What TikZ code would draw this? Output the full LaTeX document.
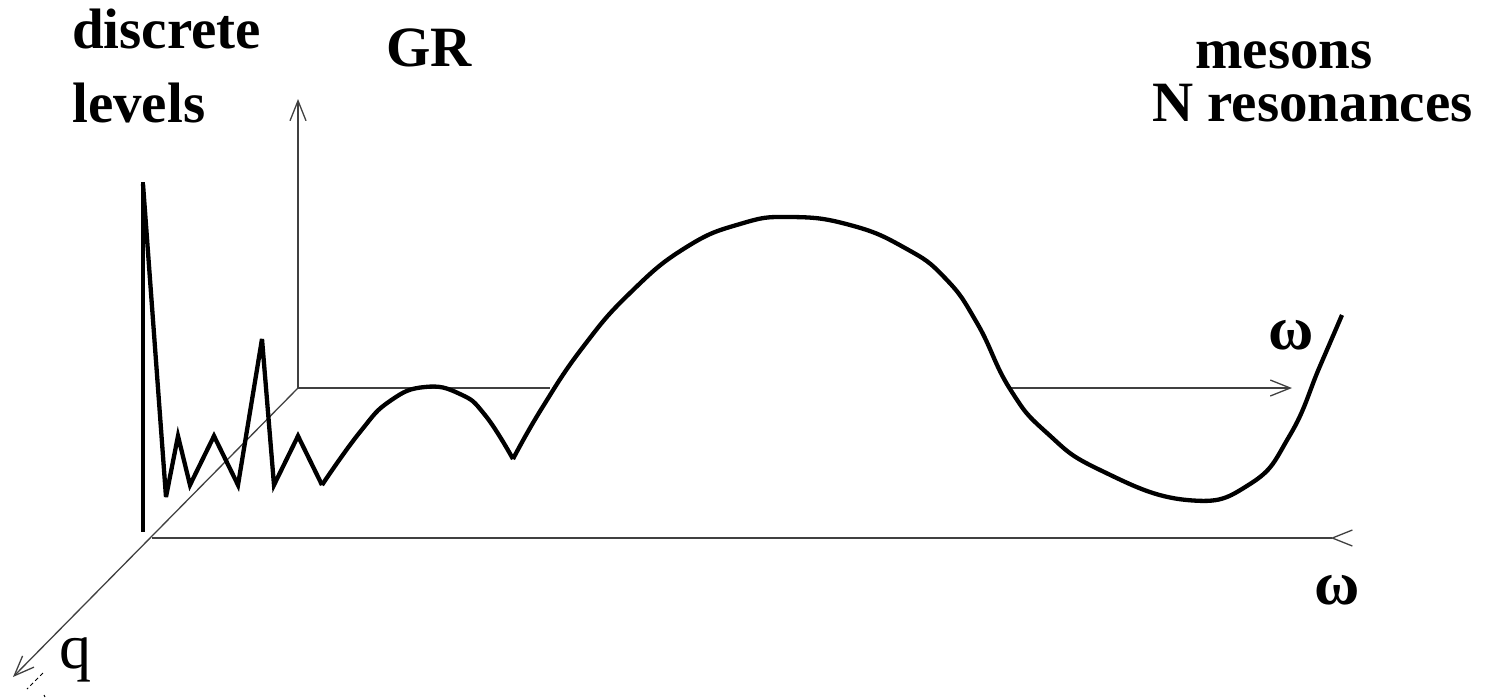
\documentclass[tikz,border=0pt]{standalone}
\usepackage{fontspec}
\setmainfont{Liberation Serif}
\usetikzlibrary{arrows.meta}
\begin{document}
\begin{tikzpicture}[x=1pt,y=-1pt,
  axisline/.style={line width=1.3pt, draw=black!75},
  axisarrow/.style={axisline, -{Straight Barb[length=20pt,width=16pt,line width=1.3pt]}},
  revarrow/.style={axisline, -{Straight Barb[reversed,length=20pt,width=16pt,line width=1.3pt]}},
  thick curve/.style={line width=4.3pt, line join=miter, miter limit=6},
  title/.style={font=\bfseries\fontsize{57}{57}\selectfont, inner sep=0pt, anchor=base west},
  greek/.style={font=\bfseries\fontsize{62}{62}\selectfont, inner sep=0pt},
  qlabel/.style={font=\fontsize{64}{64}\selectfont, inner sep=0pt},
]
\useasboundingbox (0,0) rectangle (1505,697);
% axes
\coordinate (O) at (298,388);
\coordinate (Ztop) at (298,99);
\coordinate (Hgap1) at (550,388);
\coordinate (Hgap2) at (1008,388);
\coordinate (Hend) at (1292,388);
\coordinate (Qend) at (13,677);
\coordinate (Lstart) at (152,538);
\coordinate (Lend) at (1353,538);
\draw[axisarrow] (O) -- (Ztop);
\draw[axisline] (O) -- (Hgap1);
\draw[axisarrow] (Hgap2) -- (Hend);
\draw[axisarrow] (O) -- (Qend);
\draw[revarrow] (Lstart) -- (Lend);
\draw[line width=1pt, dash pattern=on 4pt off 3pt] (43,673) -- (27,689);
\draw[line width=1pt] (44,695) -- (45,697);
% thick vertical bar
\draw[line width=4.5pt] (143,182) -- (143,532);
% zigzag discrete levels
\draw[thick curve] (143,184) -- (166,497) -- (178,436) -- (190,485) -- (214,436) -- (238,485)
  -- (262,339) -- (274,485) -- (298,436) -- (322,485);
% GR hump
\draw[thick curve] plot[smooth, tension=0.8] coordinates {(322,485) (360,432) (390,401) (425,387) (460,394) (485,415) (513,459)};
% big hump and valley
\draw[thick curve] plot[smooth, tension=0.8] coordinates {(513,459) (542,408) (583,347) (630,293) (685,248) (740,224) (790,217) (850,225) (905,248) (945,278) (977,323) (1010,389) (1047,433) (1100,470) (1187,500) (1250,484) (1290,435) (1320,366) (1342,315)};
% labels
\node[title] (disc) at (72,48) {discrete};
\node[title] (lev) at (72,122) {levels};
\node[title] (gr) at (386,66) {GR};
\node[title] (mes) at (1195,68) {mesons};
\node[title] (nres) at (1152,121) {N resonances};
\node[greek] (w1) at (1291,335) {ω};
\node[greek] (w2) at (1337,590) {ω};
\node[qlabel] (q) at (75,660) {q};
\end{tikzpicture}
\end{document}
